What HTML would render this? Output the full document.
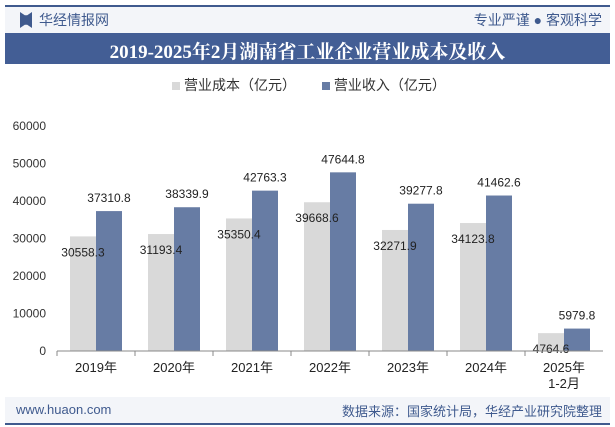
<!DOCTYPE html>
<html><head><meta charset="utf-8"><style>
body{margin:0;width:615px;height:427px;overflow:hidden;background:#fff;font-family:"Liberation Sans","Noto Sans CJK SC",sans-serif;position:relative}
.abs{position:absolute}
</style></head><body>
<div class="abs" style="left:5px;top:5px;width:605px;height:2px;background:#3f5a8e"></div>
<div class="abs" style="left:5px;top:7px;width:605px;height:26px;background:#f3f5f9"></div>
<div class="abs" style="left:20px;top:12px;width:12px;height:16px;background:#3f5a8e;clip-path:polygon(0 0,40% 20%,60% 20%,100% 0,100% 100%,60% 80%,40% 80%,0 100%)"></div>
<div class="abs" style="left:39px;top:10px;font-size:14px;color:#3f5a8e">华经情报网</div>
<div class="abs" style="right:13px;top:10px;font-size:14px;color:#3f5a8e">专业严谨 ● 客观科学</div>
<div class="abs" style="left:5px;top:33px;width:605px;height:31px;background:#435e95"></div>
<div class="abs" style="left:5px;top:37px;width:605px;text-align:center;font-size:19px;font-weight:bold;color:#fff;font-family:'Liberation Serif','Noto Serif CJK SC',serif">2019-2025年2月湖南省工业企业营业成本及收入</div>
<div class="abs" style="left:172px;top:75px;font-size:14px;color:#333">
<span><span style="display:inline-block;width:8px;height:8px;background:#d9d9d9;margin-right:4px"></span>营业成本（亿元）</span>
<span style="margin-left:22px"><span style="display:inline-block;width:8px;height:8px;background:#677ca4;margin-right:4px"></span>营业收入（亿元）</span>
</div>
<svg class="abs" style="left:0;top:0" width="615" height="427" id="chart"></svg>
<div class="abs" style="left:5px;top:397px;width:605px;height:26px;background:#f3f5f9"></div>
<div class="abs" style="left:16px;top:402px;font-size:13px;color:#3f5a8e">www.huaon.com</div>
<div class="abs" style="right:13px;top:401px;font-size:13px;color:#3f5a8e">数据来源：国家统计局，华经产业研究院整理</div>
<div class="abs" style="left:5px;top:423px;width:605px;height:2px;background:#3f5a8e"></div>
<script>
const categories=["2019年","2020年","2021年","2022年","2023年","2024年","2025年|1-2月"];
const cost=[30558.3,31193.4,35350.4,39668.6,32271.9,34123.8,4764.6];
const revenue=[37310.8,38339.9,42763.3,47644.8,39277.8,41462.6,5979.8];
const yTicks=[0,10000,20000,30000,40000,50000,60000];
const svg=document.getElementById('chart');const NS='http://www.w3.org/2000/svg';
const x0=57,band=78,yb=351,yt=126,ymax=60000;
const y=v=>yb-(v/ymax)*(yb-yt);
function mk(t,a,txt){const e=document.createElementNS(NS,t);for(const k in a)e.setAttribute(k,a[k]);if(txt!==undefined)e.textContent=txt;svg.appendChild(e);return e;}
yTicks.forEach(v=>{const t=mk('text',{x:46,y:y(v)+4,'text-anchor':'end','font-size':12,fill:'#333'},v);

});
categories.forEach((c,i)=>{const cx=x0+band*i+band/2;
const g=mk('rect',{x:cx-26,y:y(cost[i]),width:26,height:yb-y(cost[i]),fill:'#d9d9d9'});


const b=mk('rect',{x:cx,y:y(revenue[i]),width:26,height:yb-y(revenue[i]),fill:'#677ca4'});


const l1=mk('text',{x:cx-13,y:y(cost[i])+20,'text-anchor':'middle','font-size':12,fill:'#222'},cost[i]);


const l2=mk('text',{x:cx+13,y:y(revenue[i])-9,'text-anchor':'middle','font-size':12,fill:'#222'},revenue[i]);


c.split('|').forEach((p,j)=>{const t=mk('text',{x:cx,y:372+j*16,'text-anchor':'middle','font-size':13,fill:'#222'},p);

});
const tk=mk('line',{x1:x0+band*i,x2:x0+band*i,y1:yb,y2:yb+5,stroke:'#888'});

});
const ax=mk('line',{x1:x0,x2:x0+band*7,y1:yb,y2:yb,stroke:'#888'});


</script>
</body></html>
